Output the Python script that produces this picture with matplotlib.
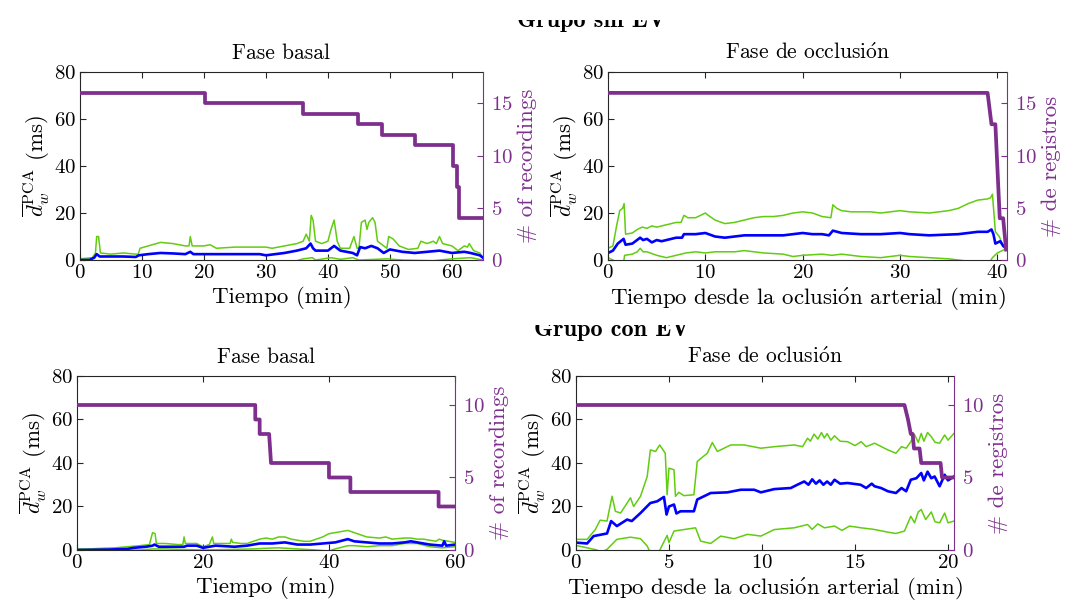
import matplotlib.pyplot as plt
from matplotlib.transforms import Bbox, TransformedBbox

plt.rcParams['font.family'] = ['cmr10', 'DejaVu Serif']
plt.rcParams['mathtext.fontset'] = 'cm'
plt.rcParams['axes.formatter.use_mathtext'] = True
plt.rcParams['axes.unicode_minus'] = False

# ---- Grupo sin EV, fase basal ----
sb_t_mean = [0, 1.5, 2.3, 2.7, 3.2, 5, 7, 9, 9.5, 11, 13, 15, 17, 17.8, 18.3, 20, 25, 29, 30, 33, 35,
             36.5, 37.2, 37.6, 38, 40, 41, 42, 44, 44.7, 45.2, 46, 47, 48, 49, 50, 52, 54, 56, 58,
             60, 62, 63, 64.5, 65]
sb_mean = [0, 0, 1, 2.5, 1.5, 1.5, 1.5, 1.3, 2, 2.5, 3, 2.8, 2.5, 3.5, 2.5, 2.5, 2.5, 2.5, 2, 3, 4,
           5, 7, 5, 4, 4, 6, 4, 3, 2, 5.5, 5, 6, 5, 3, 4.5, 3.5, 3, 3.5, 4,
           3, 3.5, 3, 2, 1]
sb_t_up = [0, 2, 2.5, 2.7, 3.0, 3.3, 5, 7, 9, 9.4, 9.7, 11, 13, 15, 17, 17.6, 17.8, 18.1, 20, 21,
           22, 25, 30, 31, 33, 35, 36, 36.5, 37, 37.3, 37.6, 38, 39, 40, 40.5, 41, 41.5, 42, 43.5,
           44.2, 44.7, 45, 45.4, 46, 46.3, 46.6, 47.2, 47.6, 48, 49, 49.5, 49.8, 50.5, 51.5, 53,
           54.5, 55, 56, 57, 57.5, 58, 58.5, 60, 61, 62, 62.5, 62.8, 63.5, 64.5, 65]
sb_up = [0.5, 1, 3, 10, 10, 3, 2.5, 3, 2.5, 2.5, 5, 6, 7.5, 7, 6, 6, 10, 6, 6, 6.5,
         5, 5.5, 5.5, 5, 6, 7, 8, 11, 8, 19, 17, 8, 7, 8, 13, 17, 8, 5, 5,
         10, 5, 5, 16, 17, 13, 16, 18, 16, 8, 6, 5, 10, 9, 6, 4.5,
         5, 8, 7, 8, 7, 10, 7, 6, 4, 6, 5.5, 7, 4, 3, 1]
sb_t_lo = [0, 1, 2, 10, 20, 30, 35, 36, 37.5, 38, 40.5, 42, 44, 45, 49.5, 52, 57, 60, 63, 64, 65]
sb_lo = [0, 0.5, -0.5, -0.5, -0.5, -0.5, -0.3, 0.5, 1, 0, 1, 0.3, 1, 0, 0.5, 0, -0.3, 0.5, 1, 0.5, 0]
sb_t_n = [0, 20.1, 20.1, 35.9, 35.9, 44.8, 44.8, 48.7, 48.7, 54, 54, 60.1, 60.1, 60.8, 60.8,
          61.2, 61.2, 65]
sb_n = [16, 16, 15, 15, 14, 14, 13, 13, 12, 12, 11, 11, 9, 9, 7, 7, 4, 4]

# ---- Grupo sin EV, fase de oclusion ----
so_t_mean = [0, 0.5, 1, 1.6, 1.8, 2.5, 3.3, 3.6, 4, 4.5, 5, 5.5, 6, 7, 7.6, 7.8, 9, 10, 11, 12,
             14, 16, 18, 20, 21, 22, 22.7, 23.1, 24, 26, 28, 30, 31, 33, 36, 38, 39, 39.4, 39.6,
             39.8, 40.3, 40.6, 40.9]
so_mean = [3, 4, 7, 9, 6.5, 7, 9.5, 8.5, 9, 7.5, 8.5, 8, 8.5, 9.5, 9.5, 11, 11, 11.5, 10, 9.5,
           10.5, 10.5, 10.5, 11.5, 11, 11, 10.5, 12.5, 11.5, 11, 11, 11.5, 11, 10.5, 11, 12, 12,
           13, 11, 7, 8, 6, 5]
so_t_up = [0, 0.5, 0.9, 1.2, 1.5, 1.65, 1.8, 2.5, 3, 3.5, 4, 4.5, 5, 6, 7, 7.5, 7.8, 8.2, 9, 10,
           10.3, 11, 12, 13, 14, 15, 16, 17, 18, 19, 20, 21, 22, 22.9, 23.1, 23.5, 24, 25, 27,
           28, 29, 30, 31, 33, 35, 36, 37, 38, 39, 39.3, 39.5, 39.8, 40.2, 40.6, 41]
so_up = [5, 6, 15, 21, 22, 24, 11, 11.5, 13, 14, 13.5, 14.5, 14, 15, 16, 16, 19, 18, 18, 20,
         19, 17, 15.5, 16, 17, 18, 18.5, 18.5, 19, 20, 20.5, 20, 18.5, 18, 23.5, 22, 21, 20.5,
         20.5, 20, 20.5, 21, 20.5, 20, 21, 22, 24, 25.5, 26, 26.5, 28, 12, 10, 6, 4]
so_t_lo = [0, 0.5, 0.8, 1.6, 1.7, 2.5, 3, 3.3, 3.6, 4, 5, 6, 7, 8, 9, 10, 11, 13, 14, 16, 18,
           19, 20, 22, 23, 24, 26, 28, 30, 31, 33, 35, 36, 37, 38, 39.2, 39.5, 40, 40.5, 41]
so_lo = [1, 0, -1, -1, 2, 2.5, 3.5, 5, 3.5, 3.5, 2, 1, 2, 3, 3.5, 3, 3.5, 3.5, 4, 3, 2.5,
         1.5, 2, 2.5, 2, 2.5, 1.5, 1, 2, 1.5, 1, 0.5, 0, -0.5, -1, -1, 1, 3, 4, 5]
so_t_n = [0, 39.0, 39.4, 39.8, 40.25, 40.6, 40.9]
so_n = [16, 16, 13, 13, 4, 4, 1]

# ---- Grupo con EV, fase basal ----
cb_t_mean = [0, 5, 8, 9, 11, 12, 12.3, 13, 15, 17, 17.5, 19, 20, 21, 22, 25, 27, 29, 31, 33, 35,
             37, 39, 41, 43, 44, 46, 48, 50, 52, 53, 54, 56, 58, 58.3, 58.6, 60]
cb_mean = [0, 0.2, 0.5, 1, 1.5, 2, 2.5, 1.5, 1.5, 1.5, 2, 2, 1, 1.5, 2, 1.5, 2, 3, 3, 3.5, 2.5,
           2.5, 3, 3.5, 5, 4, 3.5, 3, 3, 3.5, 4, 3.5, 2.5, 2, 4, 2, 2.5]
cb_t_up = [0, 2, 4, 6, 8, 10, 11.5, 12, 12.4, 12.6, 14, 16, 16.8, 17, 17.2, 19, 20, 21, 21.5,
           21.7, 23, 24.3, 24.5, 24.7, 26, 27, 28, 29, 30, 31, 32, 33, 34, 36, 37, 38, 39, 40,
           41, 42, 43, 44, 45, 46, 48, 49, 50, 52, 53, 54, 55, 56, 57, 57.5, 58, 59, 60]
cb_up = [0.5, 0.5, 0.8, 1, 1.5, 2, 2.5, 8, 7.5, 3, 3, 2.5, 2.5, 6, 3, 3, 1.5, 2.5, 6,
         3, 3, 3, 5, 3.5, 3, 3, 4, 5, 5.5, 5, 6, 6, 5, 4, 4, 5, 6, 7.5,
         8, 8.5, 9, 8, 7, 6, 5.5, 6, 5, 5.5, 5.5, 5, 5, 4.5, 4, 5, 4.5, 4, 3.5]
cb_t_lo = [0, 10, 12, 14, 20, 28, 30, 32, 35, 38, 40, 41, 43, 44, 46, 48, 50, 52, 54, 56, 58, 60]
cb_lo = [0, 0, 0.5, 0.5, 0, 0.5, 0.8, 1, 0.5, 0, -0.5, 0.5, 2, 2, 1.5, 2, 2, 3, 3, 1.5, 1, 1.5]
cb_t_n = [0, 28.3, 28.3, 29.0, 29.0, 30.5, 30.8, 40, 40, 43.4, 43.4, 57.4, 57.4, 60]
cb_n = [10, 10, 9, 9, 8, 8, 6, 6, 5, 5, 4, 4, 3, 3]

# ---- Grupo con EV, fase de oclusion ----
co_t_mean = [0, 0.6, 0.95, 1.67, 1.89, 2.2, 2.75, 3.0, 3.47, 4.0, 4.37, 4.73, 4.87, 5.0, 5.27,
             5.4, 5.62, 6.34, 6.52, 7.24, 8.14, 8.86, 9.58, 9.94, 10.66, 11.55, 11.9, 12.27,
             12.5, 12.7, 12.9, 13.1, 13.3, 13.5, 13.7, 13.9, 14.2, 14.6, 15.3, 15.6, 15.9,
             16.05, 16.4, 16.77, 17.2, 17.5, 17.75, 18.0, 18.3, 18.56, 18.7, 18.9, 19.1, 19.28,
             19.55, 19.82, 20.0, 20.32]
co_mean = [3.4, 3, 6.4, 7.6, 13.3, 11, 14, 13.3, 17, 21.6, 22.4, 24.4, 16.3, 20, 20.9,
           16.8, 17.8, 17.8, 23.2, 26.2, 26.5, 27.7, 27.7, 26.5, 28, 28.5, 30, 31.5,
           30, 32.5, 30.5, 32, 30, 31.5, 30, 32.3, 30.5, 30.8, 30, 28.5, 30.5,
           29.3, 28.5, 27, 26.2, 28.5, 27, 32.3, 33, 35.4, 32, 36, 33, 33.8,
           29.3, 34.6, 32, 33.8]
co_t_up = [0, 0.6, 1.04, 1.3, 1.67, 1.94, 2.12, 2.4, 2.75, 2.93, 3.1, 3.47, 3.83, 4.0, 4.28,
           4.5, 4.8, 4.9, 5.0, 5.27, 5.35, 5.53, 5.8, 6.34, 6.52, 7.06, 7.33, 7.6, 8.32, 9.04,
           9.94, 10.66, 11.73, 12.18, 12.45, 12.6, 12.8, 13.0, 13.2, 13.35, 13.5, 13.7, 13.9,
           14.2, 14.6, 15.0, 15.33, 15.6, 16.05, 16.77, 17.2, 17.5, 17.75, 18.0, 18.2, 18.4,
           18.56, 18.7, 18.9, 19.1, 19.3, 19.55, 19.82, 20.0, 20.32]
co_up = [4.9, 4.9, 9.4, 13.7, 13.3, 24.7, 17.8, 17, 21.6, 24, 20, 24.7, 33.8, 46, 45.3,
         48.3, 44.5, 25.4, 37.6, 36.9, 24.7, 26.5, 25, 25.4, 40.7, 44.5, 49.4, 45.3, 48.3, 48.3,
         46.8, 47.5, 48.3, 47.5, 51.4, 50, 53.3, 51, 54, 51.5, 53.5, 50.5, 52.5,
         50, 49.8, 48, 49.8, 47.5, 49.1, 46, 44.5, 47.5, 46.8, 49.8, 53, 49.5,
         53.6, 50, 54, 52.1, 49.5, 49.1, 52.9, 50.5, 53.6]
co_t_lo = [0, 0.6, 1.13, 1.3, 1.67, 2.2, 2.93, 3.47, 3.83, 4.0, 4.45, 4.9, 5.0, 5.27, 5.8, 6.43,
           6.7, 7.24, 7.78, 8.5, 9.22, 9.94, 10.66, 11.73, 12.45, 12.7, 13.0, 13.35, 13.9,
           14.3, 14.7, 15.33, 16.0, 16.77, 17.2, 17.66, 18.0, 18.2, 18.4, 18.56, 18.8, 19.1,
           19.3, 19.55, 19.82, 20.0, 20.32]
co_lo = [2.1, 1, 0, -1.2, 0.3, 4.9, 5.9, 5.2, 1.8, -1.2, -1, 6.7, 3.4, 8.7, 9.4, 10.2,
         4.1, 3, 6.4, 5.2, 7.2, 6.4, 9.4, 10.2, 11.7, 9.5, 12, 10.2, 11,
         9, 11, 10.2, 9.5, 8.2, 7.6, 8.7, 15.5, 12.5, 17.5, 18.6, 14, 17.5,
         13, 12.5, 17, 12.5, 13.3]
co_t_n = [0, 17.66, 17.85, 18.0, 18.1, 18.17, 18.47, 18.56, 19.6, 19.68, 20.32]
co_n = [10, 10, 9, 8, 8, 7, 7, 6, 6, 5, 5]

GREEN = '#62CC10'
BLUE = '#0000FF'
PURPLE = '#7E2F8E'
DARK = '#262626'
O_ACUTE = r'$\mathrm{\acute{o}}$'


def panel(rect, title, xlabel, rlabel, xlim, xticks, nmax,
          t_mean, mean, t_up, up, t_lo, lo, t_n, n):
    ax = fig.add_axes(rect)
    ax.plot(t_up, up, color=GREEN, lw=1.1)
    ax.plot(t_lo, lo, color=GREEN, lw=1.1)
    ax.plot(t_mean, mean, color=BLUE, lw=1.9)
    ax.set_xlim(xlim)
    ax.set_ylim(0, 80)
    ax.set_xticks(xticks)
    ax.set_yticks([0, 20, 40, 60, 80])
    ax.tick_params(direction='in', length=4, top=True, labelsize=15, colors=DARK,
                   labelcolor='black', pad=3)
    for s in ['left', 'top', 'bottom']:
        ax.spines[s].set_color(DARK)
    ax.spines['right'].set_visible(False)
    ax.set_title(title, fontsize=15.5, pad=9)
    ax.set_xlabel(xlabel, fontsize=16.5, labelpad=3)
    ax.set_ylabel(r'$\overline{d}_w^{\mathrm{PCA}}$ (ms)', fontsize=16.5, labelpad=1)

    ax2 = ax.twinx()
    ax2.plot(t_n, n, color=PURPLE, lw=2.7)
    ax2.set_ylim(0, nmax)
    ax2.set_yticks(range(0, nmax, 5))
    ax2.tick_params(direction='in', length=4, labelsize=15, colors=PURPLE, pad=6)
    for s in ['left', 'top', 'bottom']:
        ax2.spines[s].set_visible(False)
    ax2.spines['right'].set_color(PURPLE)
    ax2.set_ylabel(rlabel, fontsize=16.5, color=PURPLE, labelpad=3)
    return ax


fig = plt.figure(figsize=(10.66, 6.04), dpi=100)

panel([0.0750, 0.5695, 0.3780, 0.3113], 'Fase basal', 'Tiempo (min)', '# of recordings',
      (0, 65), range(0, 61, 10), 18,
      sb_t_mean, sb_mean, sb_t_up, sb_up, sb_t_lo, sb_lo, sb_t_n, sb_n)
panel([0.5704, 0.5695, 0.3743, 0.3113], 'Fase de occlusi' + O_ACUTE + 'n',
      'Tiempo desde la oclusi' + O_ACUTE + 'n arterial (min)', '# de registros',
      (0, 41), range(0, 41, 10), 18,
      so_t_mean, so_mean, so_t_up, so_up, so_t_lo, so_lo, so_t_n, so_n)
panel([0.0722, 0.0894, 0.3546, 0.2881], 'Fase basal', 'Tiempo (min)', '# of recordings',
      (0, 60), range(0, 61, 20), 12,
      cb_t_mean, cb_mean, cb_t_up, cb_up, cb_t_lo, cb_lo, cb_t_n, cb_n)
panel([0.5403, 0.0894, 0.3546, 0.2881], 'Fase de oclusi' + O_ACUTE + 'n',
      'Tiempo desde la oclusi' + O_ACUTE + 'n arterial (min)', '# de registros',
      (0, 20.32), range(0, 21, 5), 12,
      co_t_mean, co_mean, co_t_up, co_up, co_t_lo, co_lo, co_t_n, co_n)

# group titles, partly hidden like in the original
for x, y, ytop, txt in [(0.555, 0.9545, 0.967, 'Grupo sin EV'),
                        (0.574, 0.443, 0.462, 'Grupo con EV')]:
    t = fig.text(x, y, txt, family='cmb10', fontsize=17.5, ha='center', va='baseline')
    t.set_clip_box(TransformedBbox(Bbox([[0, 0], [1, ytop]]), fig.transFigure))
    t.set_clip_on(True)

fig.savefig('out.png', dpi=100)
